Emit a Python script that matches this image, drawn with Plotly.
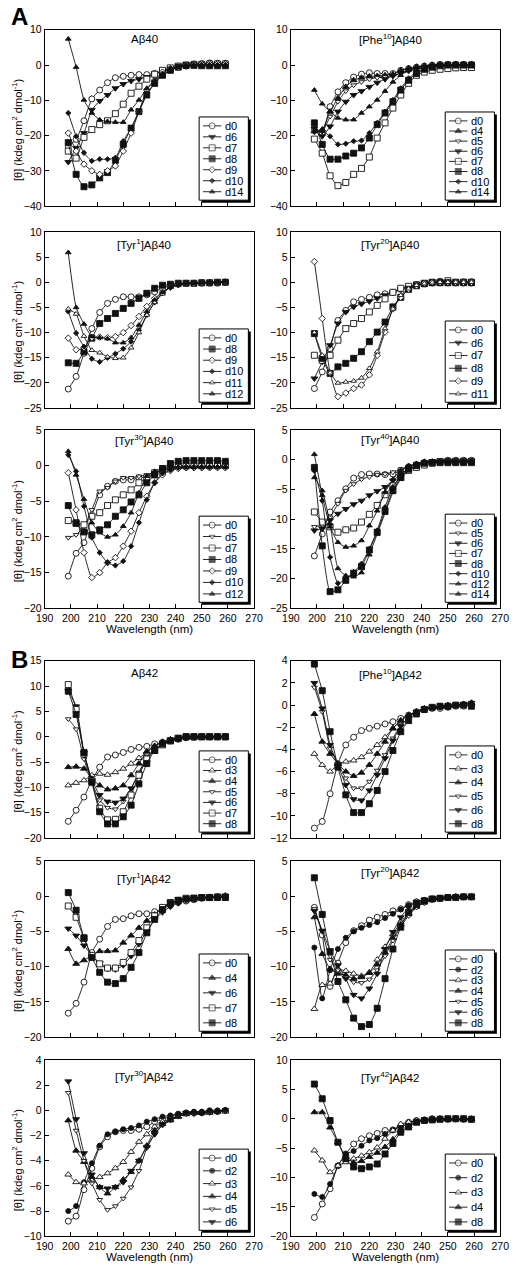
import plotly.graph_objects as go

# ---------------- data ----------------
WL = [199, 202, 205, 208, 211, 214, 217, 220, 223, 226, 229, 232, 235, 238, 241, 244, 247, 250, 253, 256, 259]

# A: Abeta40
A40_D0 = [-23.0, -21.1, -15.8, -9.6, -7.1, -5.0, -3.6, -3.2, -2.9, -2.7, -2.7, -2.4, -2.0, -1.3, -0.6, -0.3, 0.3, 0.4, 0.6, 0.5, 0.5]
A40_D6 = [-27.5, -23.5, -19.3, -12.7, -10.2, -8.5, -6.6, -5.4, -4.5, -4.0, -3.4, -2.4, -1.6, -1.0, -0.5, -0.2, 0.0, 0.0, 0.0, 0.0, 0.0]
A40_D7 = [-24.4, -26.4, -20.5, -18.3, -16.9, -15.8, -13.8, -11.1, -8.0, -6.0, -4.0, -2.6, -1.5, -0.8, -0.3, 0.0, 0.2, 0.2, 0.3, 0.3, 0.3]
A40_D8 = [-22.0, -31.0, -34.5, -34.0, -32.0, -30.5, -27.0, -22.5, -17.9, -13.2, -8.5, -5.2, -2.9, -1.5, -0.6, -0.1, -0.1, -0.2, -0.2, -0.2, -0.2]
A40_D9 = [-19.3, -24.4, -28.1, -30.0, -31.0, -30.0, -28.6, -24.4, -19.3, -13.2, -7.1, -4.3, -2.0, -1.0, -0.6, 0.0, 0.2, 0.3, 0.3, 0.3, 0.3]
A40_D10 = [-13.6, -20.2, -24.9, -27.2, -26.7, -26.7, -26.3, -21.6, -17.9, -13.2, -8.0, -5.2, -2.4, -1.0, -0.5, -0.1, 0.0, 0.0, 0.0, 0.0, 0.0]
A40_D14 = [7.4, -0.6, -9.9, -13.6, -15.5, -16.0, -16.2, -16.2, -12.7, -9.9, -6.6, -4.3, -2.9, -1.5, -0.6, -0.2, 0.0, 0.0, 0.0, 0.0, 0.0]

P40_D0 = [-18.3, -19.3, -11.8, -7.6, -5.0, -3.4, -2.6, -2.2, -2.4, -2.4, -2.4, -1.5, -1.0, -0.6, -0.3, 0.0, 0.2, 0.2, 0.2, 0.2, 0.2]
P40_D4 = [-18.8, -18.3, -13.2, -9.4, -6.2, -4.3, -3.6, -3.2, -3.1, -2.9, -2.6, -1.5, -0.9, -0.5, -0.2, 0.0, 0.1, 0.1, 0.2, 0.2, 0.2]
P40_D5 = [-17.9, -18.8, -14.6, -10.4, -7.4, -5.7, -4.8, -4.0, -3.6, -3.4, -2.9, -2.4, -1.8, -1.2, -0.8, -0.6, -0.4, -0.3, -0.3, -0.3, -0.3]
P40_D6 = [-18.0, -20.2, -17.4, -13.2, -10.4, -8.5, -7.4, -6.2, -5.0, -4.0, -3.1, -2.2, -1.5, -1.0, -0.6, -0.3, -0.2, -0.2, -0.2, -0.2, -0.2]
P40_D7 = [-21.0, -25.0, -31.4, -34.2, -33.3, -31.0, -29.3, -26.1, -20.7, -16.4, -12.2, -8.5, -5.2, -2.9, -2.0, -1.5, -1.2, -1.0, -0.8, -0.7, -0.7]
P40_D8 = [-16.4, -22.5, -26.7, -26.7, -25.8, -25.0, -23.5, -20.7, -16.9, -13.6, -10.4, -7.1, -4.3, -2.4, -1.2, -0.6, -0.2, 0.0, 0.0, 0.0, 0.0]
P40_D10 = [-19.0, -18.8, -20.2, -22.5, -22.3, -21.6, -21.4, -19.3, -16.4, -13.2, -9.9, -6.6, -3.8, -2.0, -1.0, -0.4, 0.0, 0.0, 0.0, 0.0, 0.0]
P40_D14 = [-7.1, -11.0, -13.2, -15.0, -15.5, -15.5, -13.6, -11.8, -9.9, -7.4, -4.8, -2.9, -1.5, -0.8, -0.4, -0.1, 0.0, 0.0, 0.0, 0.0, 0.0]

T1_40_D0 = [-21.2, -18.7, -14.1, -9.2, -6.0, -4.2, -3.4, -2.9, -2.9, -2.9, -2.5, -1.9, -1.2, -0.6, -0.4, -0.2, -0.2, -0.2, -0.2, -0.2, 0.0]
T1_40_D8 = [-16.0, -16.1, -13.8, -11.1, -8.2, -7.2, -6.2, -5.2, -4.2, -3.2, -2.2, -1.2, -0.6, -0.4, -0.2, -0.2, -0.2, -0.1, -0.1, 0.0, 0.0]
T1_40_D9 = [-11.1, -13.4, -13.0, -11.0, -10.9, -11.0, -10.8, -10.0, -8.6, -6.8, -4.8, -3.2, -2.0, -1.0, -0.5, -0.3, -0.2, -0.1, 0.0, 0.0, 0.0]
T1_40_D10 = [-5.8, -10.1, -12.8, -15.2, -15.8, -15.0, -14.2, -13.2, -11.8, -9.5, -6.5, -4.0, -2.2, -1.0, -0.5, -0.2, -0.1, 0.0, 0.0, 0.0, 0.0]
T1_40_D11 = [-5.3, -6.3, -10.7, -13.5, -14.0, -14.8, -15.1, -15.0, -13.0, -10.0, -6.5, -4.0, -2.3, -1.0, -0.5, -0.2, -0.1, 0.0, 0.0, 0.0, 0.0]
T1_40_D12 = [5.9, -5.0, -8.3, -10.8, -11.0, -11.2, -12.0, -12.0, -11.0, -8.5, -5.8, -3.5, -2.0, -1.0, -0.5, -0.3, -0.2, -0.1, 0.0, 0.1, 0.2]

T20_40_D0 = [-21.1, -17.8, -13.2, -7.6, -5.6, -3.9, -3.4, -3.0, -2.5, -2.3, -2.0, -1.4, -1.0, -0.5, -0.3, -0.1, 0.2, 0.2, 0.0, 0.1, 0.1]
T20_40_D6 = [-19.1, -15.8, -12.5, -8.2, -5.9, -4.9, -4.3, -3.8, -3.2, -2.6, -2.0, -1.4, -1.0, -0.7, -0.3, -0.2, -0.2, -0.2, -0.2, -0.2, -0.2]
T20_40_D7 = [-14.5, -15.5, -14.5, -11.5, -9.2, -8.2, -7.2, -5.9, -4.6, -3.3, -2.0, -1.2, -0.8, -0.5, -0.2, 0.0, 0.0, 0.3, 0.0, 0.0, 0.0]
T20_40_D8 = [-10.2, -15.1, -18.1, -16.8, -16.1, -15.1, -13.8, -11.8, -9.9, -7.9, -4.9, -3.0, -1.4, -0.7, -0.3, -0.1, -0.1, -0.1, -0.1, -0.1, -0.1]
T20_40_D9 = [4.1, -7.2, -18.0, -22.7, -22.0, -21.1, -20.4, -18.4, -14.5, -9.9, -5.3, -3.0, -1.4, -0.7, -0.2, 0.0, 0.0, 0.0, 0.0, 0.0, 0.0]
T20_40_D11 = [-10.0, -14.5, -18.0, -20.0, -19.8, -19.6, -19.0, -17.1, -13.8, -9.2, -5.3, -2.6, -1.3, -0.6, -0.3, -0.1, 0.0, 0.0, 0.0, 0.0, 0.0]

T30_40_D0 = [-15.5, -12.3, -10.8, -7.1, -4.1, -2.9, -2.2, -2.0, -2.0, -1.7, -1.6, -1.3, -0.8, -0.4, -0.2, -0.2, -0.1, -0.1, -0.1, 0.0, 0.0]
T30_40_D5 = [-10.1, -9.7, -8.5, -6.2, -3.6, -3.1, -2.2, -1.7, -1.7, -1.5, -1.3, -1.0, -0.6, -0.3, -0.1, -0.1, 0.0, 0.0, 0.0, 0.0, 0.0]
T30_40_D7 = [-7.7, -8.0, -8.3, -7.1, -6.6, -5.6, -4.8, -4.1, -3.4, -2.4, -1.7, -1.0, -0.6, -0.3, 0.0, 0.0, 0.0, 0.0, 0.0, 0.0, 0.0]
T30_40_D8 = [-5.6, -8.1, -9.3, -9.7, -9.0, -8.3, -7.1, -6.2, -5.1, -4.1, -2.4, -1.3, -0.4, 0.3, 0.6, 0.7, 0.7, 0.7, 0.7, 0.7, 0.6]
T30_40_D9 = [-1.0, -6.2, -12.2, -15.7, -15.0, -13.6, -12.9, -11.3, -9.2, -6.6, -4.3, -2.4, -1.3, -0.7, -0.4, -0.3, -0.3, -0.3, -0.3, -0.3, -0.3]
T30_40_D10 = [1.5, -0.8, -5.7, -10.1, -12.2, -13.6, -14.0, -13.4, -11.3, -8.0, -4.8, -2.4, -1.1, -0.6, -0.3, -0.2, -0.2, -0.2, -0.2, -0.2, -0.2]
T30_40_D12 = [2.0, -1.3, -4.7, -8.0, -9.4, -10.0, -9.7, -8.5, -6.6, -3.8, -1.5, -0.8, -0.3, -0.2, -0.2, -0.2, -0.2, -0.2, -0.2, -0.2, -0.2]

T40_40_D0 = [-16.2, -12.5, -8.8, -6.9, -4.9, -3.1, -2.5, -2.4, -2.4, -2.5, -2.4, -1.8, -1.2, -0.8, -0.6, -0.4, -0.3, -0.1, -0.1, -0.1, -0.1]
T40_40_D5 = [-11.3, -11.0, -9.7, -7.4, -5.2, -4.1, -3.3, -2.9, -2.5, -2.4, -2.1, -1.6, -1.2, -0.7, -0.4, -0.2, -0.1, 0.0, 0.0, 0.0, 0.0]
T40_40_D6 = [-11.9, -11.6, -10.2, -9.1, -8.3, -7.5, -6.9, -6.0, -5.3, -4.6, -3.5, -2.4, -1.6, -1.0, -0.6, -0.3, -0.3, -0.3, -0.3, -0.3, -0.3]
T40_40_D7 = [-8.8, -10.5, -11.3, -12.2, -11.8, -11.5, -10.5, -9.2, -7.7, -5.9, -4.4, -3.0, -1.8, -1.3, -0.9, -0.6, -0.3, -0.3, -0.3, -0.3, -0.3]
T40_40_D8 = [-1.3, -14.5, -22.2, -21.9, -20.3, -19.1, -18.0, -15.2, -12.2, -8.6, -5.2, -3.0, -1.6, -1.0, -0.6, -0.5, -0.5, -0.5, -0.5, -0.5, -0.5]
T40_40_D10 = [-1.9, -6.9, -16.4, -20.8, -20.0, -18.9, -17.5, -15.0, -11.9, -8.0, -4.6, -2.7, -1.3, -0.7, -0.3, -0.3, -0.3, -0.3, -0.3, -0.3, -0.3]
T40_40_D12 = [-3.0, -5.2, -10.8, -18.3, -19.5, -19.7, -19.0, -16.0, -12.5, -9.0, -5.5, -3.3, -1.8, -1.0, -0.6, -0.4, -0.3, -0.3, -0.3, -0.3, -0.3]
T40_40_D14 = [0.9, -6.0, -11.3, -13.9, -14.7, -14.5, -13.6, -11.1, -8.6, -5.5, -3.3, -1.8, -1.0, -0.7, -0.4, -0.4, -0.4, -0.4, -0.4, -0.4, -0.4]

# B: Abeta42
A42_D0 = [-16.7, -14.5, -11.9, -8.6, -6.0, -4.0, -3.6, -3.1, -2.5, -2.1, -1.9, -1.4, -1.1, -0.8, -0.5, -0.2, -0.1, 0.0, 0.0, 0.0, 0.0]
A42_D3 = [-9.6, -9.1, -8.6, -7.6, -7.3, -7.5, -7.0, -6.3, -5.3, -4.2, -3.1, -1.9, -1.1, -0.7, -0.3, 0.0, 0.0, 0.0, 0.0, 0.0, 0.0]
A42_D4 = [-6.0, -5.9, -6.3, -8.3, -9.6, -10.4, -10.2, -9.6, -7.6, -5.3, -2.9, -1.8, -1.0, -0.5, -0.3, 0.0, 0.0, 0.0, 0.0, 0.0, 0.0]
A42_D5 = [3.5, 1.5, -4.4, -9.0, -12.5, -14.0, -14.3, -12.8, -10.2, -7.0, -4.0, -2.4, -1.4, -0.8, -0.5, -0.1, 0.0, 0.0, 0.0, 0.0, 0.0]
A42_D6 = [9.0, 6.0, -3.1, -8.5, -11.5, -12.8, -13.0, -12.2, -10.2, -7.3, -4.4, -2.7, -1.6, -0.8, -0.4, -0.2, -0.1, 0.0, 0.0, 0.0, 0.0]
A42_D7 = [10.3, 5.4, -3.4, -8.8, -14.1, -16.4, -16.3, -14.8, -11.5, -7.6, -4.4, -2.7, -1.6, -0.8, -0.3, 0.0, 0.0, 0.0, 0.0, 0.0, 0.0]
A42_D8 = [9.0, 4.4, -3.1, -9.0, -14.8, -17.2, -17.2, -15.8, -13.5, -9.3, -5.3, -2.7, -1.4, -0.8, -0.3, 0.0, 0.0, 0.0, 0.0, 0.0, 0.0]

P42_D0 = [-11.1, -10.5, -8.0, -5.3, -3.6, -2.9, -2.3, -2.1, -1.9, -1.7, -1.5, -1.2, -0.9, -0.6, -0.4, -0.3, -0.3, -0.2, -0.1, -0.1, 0.0]
P42_D3 = [-4.4, -5.4, -6.0, -5.3, -5.1, -5.0, -4.7, -4.2, -3.6, -2.9, -2.1, -1.4, -0.9, -0.6, -0.3, -0.2, -0.1, 0.0, 0.0, 0.1, 0.2]
P42_D4 = [-0.8, -3.3, -4.4, -5.3, -6.0, -6.4, -6.1, -5.4, -4.4, -3.3, -2.1, -1.4, -0.9, -0.6, -0.3, -0.2, -0.1, 0.0, 0.0, 0.1, 0.2]
P42_D5 = [1.6, -0.6, -3.9, -5.3, -6.6, -7.5, -7.5, -6.9, -5.9, -4.5, -3.0, -1.8, -1.1, -0.6, -0.4, -0.2, -0.2, -0.2, -0.1, 0.0, 0.0]
P42_D6 = [2.0, -0.3, -3.6, -5.4, -7.2, -8.5, -8.6, -7.7, -6.3, -4.8, -3.2, -1.9, -1.1, -0.6, -0.3, -0.2, -0.2, -0.1, 0.0, 0.1, 0.2]
P42_D8 = [3.7, 1.3, -2.4, -5.6, -8.1, -9.7, -9.7, -8.9, -7.7, -6.0, -4.1, -2.4, -1.4, -0.8, -0.4, -0.2, -0.1, -0.1, 0.0, 0.0, -0.1]

T1_42_D0 = [-16.6, -15.2, -12.2, -8.0, -6.1, -4.3, -3.3, -3.2, -2.8, -2.5, -2.5, -2.2, -1.8, -1.3, -0.9, -0.7, -0.5, -0.3, -0.2, -0.2, -0.1]
T1_42_D4 = [-7.5, -9.6, -9.1, -8.4, -7.8, -7.8, -7.7, -6.6, -5.6, -4.5, -3.5, -2.6, -1.6, -1.0, -0.7, -0.5, -0.3, -0.2, -0.1, 0.0, 0.1]
T1_42_D6 = [-4.6, -5.6, -7.0, -8.4, -9.5, -10.3, -10.4, -9.8, -8.5, -6.8, -5.0, -3.3, -2.3, -1.5, -1.0, -0.6, -0.4, -0.3, -0.2, -0.1, 0.0]
T1_42_D7 = [-1.4, -3.0, -6.0, -8.4, -9.6, -10.2, -10.2, -9.4, -8.0, -6.3, -4.5, -2.8, -1.6, -0.9, -0.6, -0.3, -0.3, -0.2, -0.2, -0.1, -0.1]
T1_42_D8 = [0.5, -2.0, -5.9, -8.7, -10.8, -12.2, -12.4, -11.7, -10.1, -8.0, -5.2, -3.3, -1.9, -1.0, -0.6, -0.4, -0.3, -0.2, -0.2, -0.2, -0.2]

T20_42_D0 = [-1.6, -5.5, -12.8, -9.5, -6.6, -4.9, -4.2, -3.4, -3.0, -2.6, -2.1, -1.8, -1.2, -0.8, -0.6, -0.4, -0.3, -0.2, -0.1, -0.1, -0.1]
T20_42_D2 = [-7.3, -14.5, -10.5, -7.5, -5.9, -5.0, -4.5, -4.1, -3.7, -3.1, -2.5, -1.9, -1.3, -0.9, -0.6, -0.4, -0.3, -0.2, -0.1, -0.1, -0.1]
T20_42_D3 = [-16.0, -12.6, -12.4, -10.4, -10.6, -11.0, -11.3, -10.8, -9.0, -7.2, -5.4, -3.7, -2.4, -1.4, -0.8, -0.5, -0.3, -0.2, -0.1, -0.1, -0.1]
T20_42_D4 = [-3.0, -8.2, -10.3, -11.0, -11.2, -11.7, -11.5, -10.9, -9.7, -8.0, -6.0, -4.0, -2.6, -1.5, -0.9, -0.5, -0.3, -0.2, -0.1, -0.1, -0.1]
T20_42_D5 = [-1.8, -5.0, -9.0, -10.5, -11.5, -12.2, -12.3, -11.8, -10.5, -8.5, -6.3, -4.3, -2.8, -1.6, -1.0, -0.6, -0.4, -0.2, -0.1, -0.1, -0.1]
T20_42_D6 = [-2.1, -4.9, -7.7, -9.8, -11.7, -14.0, -14.5, -13.1, -11.0, -7.5, -5.1, -3.0, -1.6, -0.8, -0.5, -0.3, -0.2, -0.2, -0.1, -0.1, -0.1]
T20_42_D8 = [2.6, -2.6, -7.9, -12.1, -14.7, -17.3, -18.5, -18.2, -15.9, -11.7, -7.5, -4.4, -2.3, -1.2, -0.7, -0.4, -0.3, -0.2, -0.2, -0.1, -0.1]

T30_42_D0 = [-8.8, -8.4, -6.3, -4.6, -2.9, -2.1, -1.7, -1.6, -1.6, -1.5, -1.3, -0.9, -0.7, -0.5, -0.3, -0.2, -0.2, -0.2, -0.1, -0.1, 0.0]
T30_42_D2 = [-8.0, -7.6, -5.7, -4.2, -2.8, -1.9, -1.7, -1.5, -1.4, -1.2, -0.9, -0.7, -0.5, -0.4, -0.3, -0.2, -0.1, -0.1, 0.0, 0.0, 0.0]
T30_42_D3 = [-5.1, -5.7, -5.8, -5.5, -5.3, -5.0, -4.6, -4.1, -3.3, -2.5, -1.9, -1.3, -0.9, -0.7, -0.5, -0.3, -0.2, -0.2, -0.2, -0.1, -0.1]
T30_42_D4 = [-0.8, -3.2, -4.1, -5.3, -6.1, -6.6, -6.1, -5.5, -4.9, -4.0, -2.8, -1.6, -1.1, -0.8, -0.5, -0.3, -0.2, -0.2, -0.1, -0.1, 0.0]
T30_42_D5 = [1.4, -1.6, -4.0, -5.8, -7.1, -7.9, -7.6, -7.0, -6.1, -4.8, -3.0, -1.9, -1.2, -0.8, -0.5, -0.3, -0.3, -0.2, -0.2, -0.1, -0.1]
T30_42_D6 = [2.3, -0.7, -3.4, -5.1, -6.1, -6.2, -6.1, -5.7, -4.8, -4.0, -2.9, -1.9, -1.1, -0.7, -0.4, -0.2, -0.2, -0.2, -0.1, -0.1, 0.0]

T42_42_D0 = [-16.8, -14.5, -11.9, -8.0, -6.0, -4.3, -3.4, -2.9, -2.5, -2.0, -1.9, -1.2, -0.6, -0.3, -0.2, 0.0, 0.0, -0.1, 0.0, -0.1, -0.1]
T42_42_D2 = [-12.8, -13.3, -11.1, -8.0, -6.0, -5.5, -4.6, -3.7, -3.3, -2.6, -1.9, -1.4, -0.8, -0.5, -0.2, -0.1, -0.1, -0.1, -0.1, -0.1, -0.1]
T42_42_D3 = [-5.4, -7.1, -9.1, -8.0, -7.4, -6.8, -6.3, -5.7, -4.9, -3.4, -2.0, -0.9, -0.6, -0.3, -0.2, 0.0, 0.0, 0.0, 0.0, 0.0, 0.0]
T42_42_D4 = [1.1, 1.1, -1.5, -4.0, -6.5, -7.5, -7.2, -6.5, -5.8, -4.8, -3.5, -2.0, -1.2, -0.6, -0.3, -0.2, -0.1, -0.1, 0.0, 0.0, 0.0]
T42_42_D8 = [5.9, 3.4, -0.3, -4.0, -6.8, -8.2, -8.5, -8.2, -7.7, -6.0, -4.2, -2.3, -1.4, -0.6, -0.3, -0.2, -0.1, 0.0, 0.0, 0.0, -0.1]

X_TICKS = [190, 200, 210, 220, 230, 240, 250, 260, 270]

# ---------------- styles ----------------
FONT = "Liberation Sans, Arial, Helvetica, sans-serif"
INK = "#111111"
STYLE = {
    "d0": ("circle", False, 6),
    "d2": ("circle", True, 5),
    "d3": ("triangle-up", False, 6),
    "d4": ("triangle-up", True, 6),
    "d5": ("triangle-down", False, 5),
    "d6": ("triangle-down", True, 6),
    "d7": ("square", False, 6),
    "d8": ("square", True, 6),
    "d9": ("diamond", False, 5),
    "d10": ("diamond", True, 4),
    "d11": ("triangle-up", False, 5),
    "d12": ("triangle-up", True, 5),
    "d14": ("triangle-up", True, 5),
}

PANELS = [
    dict(title="Aβ40", yr=(-40, 10), dt=10, tpx=9, leg=90,
         s=[("d0", A40_D0), ("d6", A40_D6), ("d7", A40_D7), ("d8", A40_D8), ("d9", A40_D9), ("d10", A40_D10), ("d14", A40_D14)]),
    dict(title="[Phe<sup>10</sup>]Aβ40", yr=(-40, 10), dt=10, tpx=9, leg=95,
         s=[("d0", P40_D0), ("d4", P40_D4), ("d5", P40_D5), ("d6", P40_D6), ("d7", P40_D7), ("d8", P40_D8), ("d10", P40_D10), ("d14", P40_D14)]),
    dict(title="[Tyr<sup>1</sup>]Aβ40", yr=(-25, 10), dt=5, tpx=12.5, leg=80,
         s=[("d0", T1_40_D0), ("d8", T1_40_D8), ("d9", T1_40_D9), ("d10", T1_40_D10), ("d11", T1_40_D11), ("d12", T1_40_D12)]),
    dict(title="[Tyr<sup>20</sup>]Aβ40", yr=(-25, 10), dt=5, tpx=12, leg=88,
         s=[("d0", T20_40_D0), ("d6", T20_40_D6), ("d7", T20_40_D7), ("d8", T20_40_D8), ("d9", T20_40_D9), ("d11", T20_40_D11)]),
    dict(title="[Tyr<sup>30</sup>]Aβ40", yr=(-20, 5), dt=5, tpx=10, leg=93,
         s=[("d0", T30_40_D0), ("d5", T30_40_D5), ("d7", T30_40_D7), ("d8", T30_40_D8), ("d9", T30_40_D9), ("d10", T30_40_D10), ("d12", T30_40_D12)]),
    dict(title="[Tyr<sup>40</sup>]Aβ40", yr=(-25, 5), dt=5, tpx=9.5, leg=95,
         s=[("d0", T40_40_D0), ("d5", T40_40_D5), ("d6", T40_40_D6), ("d7", T40_40_D7), ("d8", T40_40_D8), ("d10", T40_40_D10), ("d12", T40_40_D12), ("d14", T40_40_D14)]),
    dict(title="Aβ42", yr=(-20, 15), dt=5, tpx=12, leg=88,
         s=[("d0", A42_D0), ("d3", A42_D3), ("d4", A42_D4), ("d5", A42_D5), ("d6", A42_D6), ("d7", A42_D7), ("d8", A42_D8)]),
    dict(title="[Phe<sup>10</sup>]Aβ42", yr=(-12, 4), dt=2, tpx=13, leg=93,
         s=[("d0", P42_D0), ("d3", P42_D3), ("d4", P42_D4), ("d5", P42_D5), ("d6", P42_D6), ("d8", P42_D8)]),
    dict(title="[Tyr<sup>1</sup>]Aβ42", yr=(-20, 5), dt=5, tpx=17, leg=84,
         s=[("d0", T1_42_D0), ("d4", T1_42_D4), ("d6", T1_42_D6), ("d7", T1_42_D7), ("d8", T1_42_D8)]),
    dict(title="[Tyr<sup>20</sup>]Aβ42", yr=(-20, 5), dt=5, tpx=11, leg=88,
         s=[("d0", T20_42_D0), ("d2", T20_42_D2), ("d3", T20_42_D3), ("d4", T20_42_D4), ("d5", T20_42_D5), ("d6", T20_42_D6), ("d8", T20_42_D8)]),
    dict(title="[Tyr<sup>30</sup>]Aβ42", yr=(-10, 4), dt=2, tpx=16, leg=88,
         s=[("d0", T30_42_D0), ("d2", T30_42_D2), ("d3", T30_42_D3), ("d4", T30_42_D4), ("d5", T30_42_D5), ("d6", T30_42_D6)]),
    dict(title="[Tyr<sup>42</sup>]Aβ42", yr=(-20, 10), dt=5, tpx=17, leg=83,
         s=[("d0", T42_42_D0), ("d2", T42_42_D2), ("d3", T42_42_D3), ("d4", T42_42_D4), ("d8", T42_42_D8)]),
]

# ---------------- geometry (pixels) ----------------
W, H = 516, 1272
COL_X = [(37, 254), (292, 509)]
ROW_Y = [(24, 202), (228, 406), (428, 608), (661, 840), (863, 1041), (1064, 1242)]
BOTTOM_ROWS = (2, 5)

fig = go.Figure()
layout = dict(
    width=W, height=H, margin=dict(l=0, r=0, t=0, b=0),
    paper_bgcolor="white", plot_bgcolor="white", showlegend=False,
    font=dict(family=FONT, size=10.5, color="black"),
)
shapes, annotations = [], []


def marker_of(day):
    sym, filled, size = STYLE[day]
    return dict(symbol=sym, size=size, color=INK if filled else "white",
                line=dict(color=INK, width=0.9))


for i, p in enumerate(PANELS):
    k = i + 1
    row, col = i // 2, i % 2
    x0, x1 = COL_X[col]
    y0, y1 = ROW_Y[row]
    pw, ph = x1 - x0, y1 - y0
    xa, ya = ("xaxis" if k == 1 else f"xaxis{k}"), ("yaxis" if k == 1 else f"yaxis{k}")
    xr, yr = f"x{k}" if k > 1 else "x", f"y{k}" if k > 1 else "y"
    axis_common = dict(showline=True, linecolor="black", linewidth=1, mirror=True,
                       ticks="inside", ticklen=4, tickcolor="black", tickwidth=1,
                       showgrid=False, zeroline=False,
                       tickfont=dict(family=FONT, size=10.5, color="black"))
    layout[xa] = dict(axis_common, domain=[x0 / W, x1 / W], range=[190, 270],
                      tickvals=X_TICKS, anchor=yr,
                      showticklabels=row in BOTTOM_ROWS)
    layout[ya] = dict(axis_common, domain=[1 - y1 / H, 1 - y0 / H], range=list(p["yr"]),
                      dtick=p["dt"], tick0=0, anchor=xr)

    for day, vals in p["s"]:
        fig.add_trace(go.Scatter(
            x=WL, y=vals, xaxis=xr, yaxis=yr, mode="lines+markers", name=day,
            line=dict(color=INK, width=0.9, shape="spline", smoothing=0.5),
            marker=marker_of(day), cliponaxis=False))

    # panel title
    annotations.append(dict(text=p["title"], xref=f"{xr} domain", yref=f"{yr} domain",
                            x=0.475, y=1 - p["tpx"] / ph, xanchor="center", yanchor="middle",
                            showarrow=False, font=dict(family=FONT, size=11.5, color="black")))

    # ----- custom legend (box with drop shadow) -----
    n = len(p["s"])
    bl, br = 160 / pw, 211 / pw
    bt, bb = p["leg"] / ph, 6 / ph
    sh = 2.5
    shapes.append(dict(type="rect", xref=f"{xr} domain", yref=f"{yr} domain",
                       x0=bl + sh / pw, x1=br + sh / pw, y0=bb - sh / ph, y1=bt - sh / ph,
                       fillcolor="black", line=dict(width=0), layer="below"))
    shapes.append(dict(type="rect", xref=f"{xr} domain", yref=f"{yr} domain",
                       x0=bl, x1=br, y0=bb, y1=bt,
                       fillcolor="white", line=dict(color="black", width=1), layer="below"))
    top_e, bot_e = p["leg"] - 9, 6 + 8.5
    step = (top_e - bot_e) / (n - 1)
    lx, ly, lsym, lcol, lsize = [], [], [], [], []
    for j, (day, _) in enumerate(p["s"]):
        ypx = top_e - j * step
        fy = ypx / ph
        shapes.append(dict(type="line", xref=f"{xr} domain", yref=f"{yr} domain",
                           x0=164 / pw, x1=183 / pw, y0=fy, y1=fy,
                           line=dict(color=INK, width=0.9), layer="below"))
        annotations.append(dict(text=day, xref=f"{xr} domain", yref=f"{yr} domain",
                                x=185 / pw, y=fy, xanchor="left", yanchor="middle",
                                showarrow=False, font=dict(family=FONT, size=11, color="black")))
        m = marker_of(day)
        lx.append(190 + (173.5 / pw) * 80)
        ly.append(p["yr"][0] + fy * (p["yr"][1] - p["yr"][0]))
        lsym.append(m["symbol"]); lcol.append(m["color"]); lsize.append(m["size"])
    fig.add_trace(go.Scatter(x=lx, y=ly, xaxis=xr, yaxis=yr, mode="markers",
                             marker=dict(symbol=lsym, color=lcol, size=lsize,
                                         line=dict(color=INK, width=0.9)),
                             hoverinfo="skip", cliponaxis=False))

    # y-axis title on left column
    if col == 0:
        annotations.append(dict(text="[θ] (kdeg cm<sup>2</sup> dmol<sup>-1</sup>)",
                                xref="paper", yref="paper", x=8.5 / W,
                                y=1 - ((y0 + y1) / 2 + 12) / H, textangle=-90,
                                xanchor="center", yanchor="middle", showarrow=False,
                                font=dict(family=FONT, size=11, color="black")))
    # x-axis title on bottom rows
    if row in BOTTOM_ROWS:
        annotations.append(dict(text="Wavelength (nm)", xref=f"{xr} domain", yref="paper",
                                x=0.5, y=1 - (y1 + 21) / H, xanchor="center", yanchor="middle",
                                showarrow=False, font=dict(family=FONT, size=11.5, color="black")))

# panel letters
annotations.append(dict(text="<b>A</b>", xref="paper", yref="paper", x=0, y=1 - 11 / H,
                        xanchor="left", yanchor="middle", showarrow=False,
                        font=dict(family=FONT, size=24, color="black")))
annotations.append(dict(text="<b>B</b>", xref="paper", yref="paper", x=0, y=1 - 660 / H,
                        xanchor="left", yanchor="middle", showarrow=False,
                        font=dict(family=FONT, size=24, color="black")))

layout["shapes"] = shapes
layout["annotations"] = annotations
fig.update_layout(**layout)
fig.write_html("out.html", config={"displayModeBar": False},
               post_script="document.body.style.margin='0px';document.body.style.overflow='hidden';")
